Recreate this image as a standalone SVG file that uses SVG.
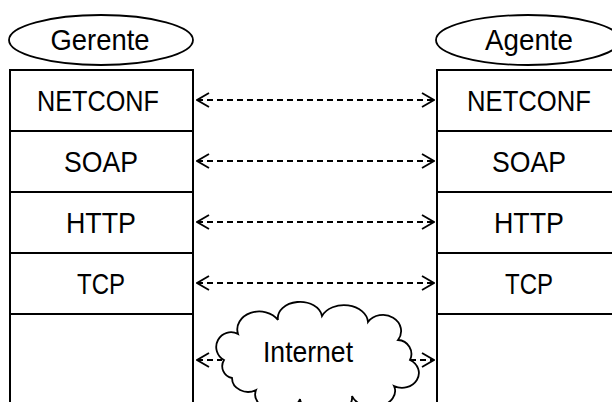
<svg xmlns="http://www.w3.org/2000/svg" width="612" height="402" viewBox="0 0 612 402">
  <style>
    .box { fill: none; stroke: #000; stroke-width: 2; }
    .oval { fill: #fff; stroke: #000; stroke-width: 1.8; }
    .lbl { font-family: "Liberation Sans", Arial, sans-serif; font-size: 29px; fill: #000; text-anchor: middle; }
    .link { fill: none; stroke: #000; stroke-width: 1.8; stroke-dasharray: 6 4; }
    .cloud { fill: #fff; stroke: #000; stroke-width: 1.8; }
  </style>
  <defs>
    <marker id="head" viewBox="0 0 14 16" refX="13" refY="8" markerWidth="14" markerHeight="16" markerUnits="userSpaceOnUse" orient="auto-start-reverse">
      <path d="M1,1 L13,8 L1,15" fill="none" stroke="#000" stroke-width="1.8"/>
    </marker>
  </defs>

  <!-- manager side -->
  <g id="gerente">
    <ellipse class="oval" cx="101" cy="40" rx="92" ry="25"/>
    <text class="lbl" x="100" y="50" textLength="99" lengthAdjust="spacingAndGlyphs">Gerente</text>
  </g>
  <g id="gerente-stack">
    <path class="box" d="M10,402 V70 H193 V402 M10,131 H193 M10,192 H193 M10,253 H193 M10,314 H193"/>
    <text class="lbl" x="98" y="111" textLength="122" lengthAdjust="spacingAndGlyphs">NETCONF</text>
    <text class="lbl" x="101" y="172" textLength="74" lengthAdjust="spacingAndGlyphs">SOAP</text>
    <text class="lbl" x="101" y="233" textLength="70" lengthAdjust="spacingAndGlyphs">HTTP</text>
    <text class="lbl" x="101" y="294" textLength="48" lengthAdjust="spacingAndGlyphs">TCP</text>
  </g>

  <!-- agent side -->
  <g id="agente">
    <ellipse class="oval" cx="528" cy="40" rx="92" ry="25"/>
    <text class="lbl" x="529" y="50" textLength="88" lengthAdjust="spacingAndGlyphs">Agente</text>
  </g>
  <g id="agente-stack">
    <path class="box" d="M437,402 V70 H620 M437,131 H620 M437,192 H620 M437,253 H620 M437,314 H620"/>
    <text class="lbl" x="529" y="111" textLength="124" lengthAdjust="spacingAndGlyphs">NETCONF</text>
    <text class="lbl" x="529" y="172" textLength="74" lengthAdjust="spacingAndGlyphs">SOAP</text>
    <text class="lbl" x="529" y="233" textLength="70" lengthAdjust="spacingAndGlyphs">HTTP</text>
    <text class="lbl" x="529" y="294" textLength="48" lengthAdjust="spacingAndGlyphs">TCP</text>
  </g>

  <!-- peer-to-peer links -->
  <g id="links">
    <line class="link" x1="197" y1="100" x2="434" y2="100" marker-start="url(#head)" marker-end="url(#head)"/>
    <line class="link" x1="197" y1="161" x2="434" y2="161" marker-start="url(#head)" marker-end="url(#head)"/>
    <line class="link" x1="197" y1="222" x2="434" y2="222" marker-start="url(#head)" marker-end="url(#head)"/>
    <line class="link" x1="197" y1="283" x2="434" y2="283" marker-start="url(#head)" marker-end="url(#head)"/>
    <line class="link" x1="197" y1="360" x2="222" y2="360" marker-start="url(#head)"/>
    <line class="link" x1="410" y1="360" x2="434" y2="360" marker-end="url(#head)"/>
  </g>

  <g id="internet">
    <path class="cloud" d="M224,360 A14,14 0 0 1 238,334 A22,18 0 0 1 278,320 A22,16 0 0 1 322,316 A24,18 0 0 1 368,322 A18,16 0 0 1 398,340 A14,14 0 0 1 410,360 A16,14 0 0 1 394,386 A22,16 0 0 1 352,396 A24,16 0 0 1 300,399 A22,16 0 0 1 256,390 A16,14 0 0 1 232,378 A12,12 0 0 1 224,360 Z"/>
    <text class="lbl" x="308" y="362" textLength="90" lengthAdjust="spacingAndGlyphs">Internet</text>
  </g>
</svg>
